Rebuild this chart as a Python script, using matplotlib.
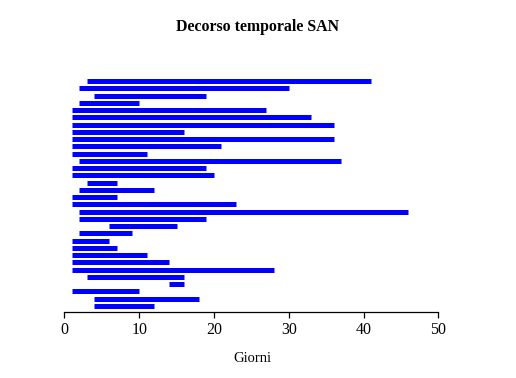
import matplotlib.pyplot as plt
import numpy as np

# one segment per patient, top to bottom (giorni)
start = [3, 2, 4, 2, 1, 1, 1, 1, 1, 1, 1, 2, 1, 1, 3, 2,
         1, 1, 2, 2, 6, 2, 1, 1, 1, 1, 1, 3, 14, 1, 4, 4]
end = [41, 30, 19, 10, 27, 33, 36, 16, 36, 21, 11, 37, 19, 20, 7, 12,
       7, 23, 46, 19, 15, 9, 6, 7, 11, 14, 28, 16, 16, 10, 18, 12]
xticks = [0, 10, 20, 30, 40, 50]

plt.rcParams['font.family'] = ['Liberation Serif', 'DejaVu Serif']

fig = plt.figure(figsize=(5.16, 3.78), dpi=100)
ax = fig.add_axes([0.0958, 0.1746, 0.7827, 0.627])

y = np.arange(1, len(start) + 1)
ax.hlines(y, start, end, colors='#0000ff', linewidth=3.6, capstyle='butt')

ax.set_xlim(-2, 52)
ax.set_ylim(len(start) + 0.83, 0.17)
ax.set_xticks(xticks)
ax.set_xticklabels([str(t) for t in xticks], fontsize=11.5)
ax.set_yticks([])
for s in ['top', 'right', 'left']:
    ax.spines[s].set_visible(False)
ax.spines['bottom'].set_bounds(0, 50)
ax.spines['bottom'].set_linewidth(0.9)
ax.tick_params(axis='x', length=4.5, width=0.9, pad=3)

fig.text(0.5, 1 - 27 / 378, "Decorso temporale SAN", ha='center', va='center',
         fontsize=11.4, fontweight='bold')
fig.text(252 / 516, 1 - 358 / 378, "Giorni", ha='center', va='center', fontsize=10.5)

fig.savefig("out.png", dpi=100)
